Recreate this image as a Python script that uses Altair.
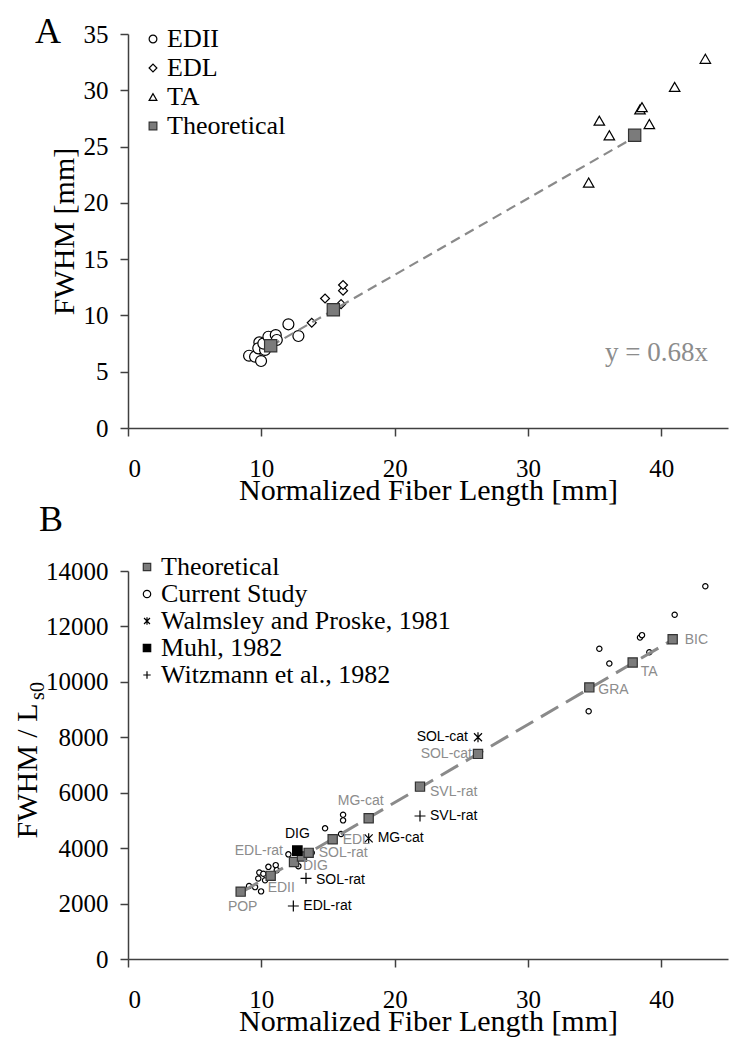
import altair as alt
import pandas as pd

SERIF = "Liberation Serif"
SANS = "Liberation Sans"
GRAY_TXT = "#8c8c8c"

# ---------------- Panel A data ----------------
EDII_X = [9.08, 9.53, 9.98, 9.85, 9.77, 10.28, 10.15, 10.53, 11.08, 11.16, 12.03, 12.78]
EDII_Y = [6.42, 6.33, 5.95, 7.61, 7.08, 6.93, 7.50, 8.11, 8.26, 7.82, 9.21, 8.17]
EDL_X = [13.78, 14.78, 15.98, 16.13, 16.13]
EDL_Y = [9.35, 11.5, 11.0, 12.2, 12.7]
TA_X = [43.3, 41.0, 38.4, 38.55, 35.35, 36.1, 39.1, 34.55]
TA_Y = [32.8, 30.3, 28.3, 28.5, 27.3, 26.0, 27.0, 21.8]
THEO_A_X = [10.7, 15.4, 38.0]
THEO_A_Y = [7.3, 10.5, 26.0]
LINE_A_X = [10.7, 38.0]
LINE_A_Y = [7.28, 25.84]

A_GROUPS = ["EDII", "EDL", "TA", "Theoretical"]

# ---------------- Panel B data ----------------
CUR_X = [9.08, 9.53, 9.98, 9.85, 9.77, 10.28, 10.15, 10.53, 11.08, 11.16, 12.03, 12.78,
         13.78, 14.78, 15.98, 16.13, 16.13,
         43.3, 41.0, 38.4, 38.55, 35.35, 36.1, 39.1, 34.55]
CUR_Y = [2632, 2595, 2440, 3120, 2903, 2841, 3075, 3325, 3387, 3206, 3776, 3350,
         3834, 4715, 4510, 5002, 5207,
         13448, 12423, 11603, 11685, 11193, 10660, 11070, 8938]
THEO_B_NAMES = ["POP", "EDII", "EDL-rat", "DIG", "SOL-rat", "EDL", "MG-cat", "SVL-rat",
                "SOL-cat", "GRA", "TA", "BIC"]
THEO_B_X = [8.45, 10.7, 12.45, 13.05, 13.55, 15.35, 18.05, 21.9, 26.25, 34.6, 37.85, 40.85]
THEO_B_Y = [2430, 3000, 3500, 3700, 3830, 4320, 5080, 6220, 7400, 9800, 10700, 11540]
WAL_NAMES = ["SOL-cat", "MG-cat"]
WAL_X = [26.25, 18.05]
WAL_Y = [8000, 4355]
MUHL_NAMES = ["DIG"]
MUHL_X = [12.7]
MUHL_Y = [3908]
WITZ_NAMES = ["SVL-rat", "SOL-rat", "EDL-rat"]
WITZ_X = [21.9, 13.35, 12.4]
WITZ_Y = [5160, 2912, 1912]
LINE_B_X = [8.45, 40.85]
LINE_B_Y = [2390, 11520]

B_GROUPS = ["Theoretical", "Current Study", "Walmsley and Proske, 1981", "Muhl, 1982",
            "Witzmann et al., 1982"]

ASTER = "M-0.8,-0.8L0.8,0.8M-0.8,0.8L0.8,-0.8M0,-1L0,1"
PLUS = "M-1,0L1,0M0,-1L0,1"

X_SCALE = alt.Scale(domain=[0, 45], nice=False, zero=False)
X_AXIS = alt.Axis(values=[0, 10, 20, 30, 40], title="Normalized Fiber Length [mm]",
                  labelPadding=20, titlePadding=-6)


def x_enc():
    return alt.X("x:Q", scale=X_SCALE, axis=X_AXIS)


def txt(text, x, y, size, color="black", font=SERIF, align="center", baseline="alphabetic", angle=0):
    return alt.Chart(pd.DataFrame({"t": [text]})).mark_text(
        font=font, fontSize=size, color=color, align=align, baseline=baseline, angle=angle
    ).encode(x=alt.value(x), y=alt.value(y), text="t:N")


# ---------------- Panel A ----------------
dfA = pd.DataFrame({
    "x": EDII_X + EDL_X + TA_X + THEO_A_X,
    "y": EDII_Y + EDL_Y + TA_Y + THEO_A_Y,
    "group": ["EDII"] * len(EDII_X) + ["EDL"] * len(EDL_X) + ["TA"] * len(TA_X)
             + ["Theoretical"] * len(THEO_A_X),
})
Y_SCALE_A = alt.Scale(domain=[0, 35], nice=False)
Y_AXIS_A = alt.Axis(values=[0, 5, 10, 15, 20, 25, 30, 35], title="FWHM [mm]",
                    labelPadding=12, titlePadding=4)
yA = alt.Y("y:Q", scale=Y_SCALE_A, axis=Y_AXIS_A)
legA = alt.Legend(title=None, orient="none", legendX=12, legendY=-8, labelFont=SERIF,
                  labelFontSize=26, labelColor="black", symbolSize=60, symbolStrokeWidth=1.2,
                  rowPadding=3, labelOffset=1, padding=0, labelLimit=400)
baseA = alt.Chart(dfA).encode(
    x=x_enc(), y=yA,
    shape=alt.Shape("group:N", scale=alt.Scale(domain=A_GROUPS,
                    range=["circle", "diamond", "triangle-up", "square"]), legend=legA),
    fill=alt.Fill("group:N", scale=alt.Scale(domain=A_GROUPS,
                  range=["white", "white", "white", "#7b7b7b"]), legend=legA),
    stroke=alt.Stroke("group:N", scale=alt.Scale(domain=A_GROUPS,
                      range=["black", "black", "black", "#333333"]), legend=legA),
)
layersA = []
for g, sz in zip(["EDII", "EDL", "TA"], [120, 80, 110]):
    layersA.append(baseA.transform_filter(alt.datum.group == g)
                   .mark_point(filled=True, opacity=1, size=sz, strokeWidth=1.2))
lineA = alt.Chart(pd.DataFrame({"x": LINE_A_X, "y": LINE_A_Y})).mark_line(
    color="#8a8a8a", strokeDash=[10, 6], strokeWidth=2.2).encode(
    x=alt.X("x:Q", scale=X_SCALE, axis=X_AXIS), y=alt.Y("y:Q", scale=Y_SCALE_A, axis=Y_AXIS_A))
theoA = baseA.transform_filter(alt.datum.group == "Theoretical").mark_point(
    filled=True, opacity=1, size=150, strokeWidth=1.2)
chartA = alt.layer(
    *layersA, lineA, theoA,
    txt("y = 0.68x", 580, 327, 27, color=GRAY_TXT, align="right"),
    txt("A", -80, 9, 36),
).properties(width=600, height=394)

# ---------------- Panel B ----------------
dfB = pd.DataFrame({
    "x": THEO_B_X + CUR_X + WAL_X + MUHL_X + WITZ_X,
    "y": THEO_B_Y + CUR_Y + WAL_Y + MUHL_Y + WITZ_Y,
    "group": ["Theoretical"] * len(THEO_B_X) + ["Current Study"] * len(CUR_X)
             + ["Walmsley and Proske, 1981"] * len(WAL_X) + ["Muhl, 1982"] * len(MUHL_X)
             + ["Witzmann et al., 1982"] * len(WITZ_X),
})
Y_SCALE_B = alt.Scale(domain=[0, 14000], nice=False)
Y_AXIS_B = alt.Axis(values=list(range(0, 14001, 2000)), format="d", title=None, labelPadding=12)
yB = alt.Y("y:Q", scale=Y_SCALE_B, axis=Y_AXIS_B)
legB = alt.Legend(title=None, orient="none", legendX=6, legendY=-17, labelFont=SERIF,
                  labelFontSize=26, labelColor="black", symbolSize=55, symbolStrokeWidth=1.2,
                  rowPadding=1, labelOffset=1, padding=0, labelLimit=500)
baseB = alt.Chart(dfB).encode(
    x=x_enc(), y=yB,
    shape=alt.Shape("group:N", scale=alt.Scale(domain=B_GROUPS,
                    range=["square", "circle", ASTER, "square", PLUS]), legend=legB),
    fill=alt.Fill("group:N", scale=alt.Scale(domain=B_GROUPS,
                  range=["#7b7b7b", "white", "transparent", "black", "transparent"]), legend=legB),
    stroke=alt.Stroke("group:N", scale=alt.Scale(domain=B_GROUPS,
                      range=["#333333", "black", "black", "black", "black"]), legend=legB),
)


def ptsB(g, sz):
    return baseB.transform_filter(alt.datum.group == g).mark_point(
        filled=True, opacity=1, size=sz, strokeWidth=1.2)


lineB = alt.Chart(pd.DataFrame({"x": LINE_B_X, "y": LINE_B_Y})).mark_line(
    color="#8a8a8a", strokeDash=[20, 9], strokeWidth=3).encode(
    x=alt.X("x:Q", scale=X_SCALE, axis=X_AXIS), y=alt.Y("y:Q", scale=Y_SCALE_B, axis=Y_AXIS_B))

# label styles: (names, xs, ys, label, dx, dy, align, color)
LABEL_STYLE = [
    (THEO_B_NAMES, THEO_B_X, THEO_B_Y, "POP", 2, 15, "center", GRAY_TXT),
    (THEO_B_NAMES, THEO_B_X, THEO_B_Y, "EDII", -3, 12, "left", GRAY_TXT),
    (THEO_B_NAMES, THEO_B_X, THEO_B_Y, "EDL-rat", -11, -11, "right", GRAY_TXT),
    (THEO_B_NAMES, THEO_B_X, THEO_B_Y, "DIG", 1, 10, "left", GRAY_TXT),
    (THEO_B_NAMES, THEO_B_X, THEO_B_Y, "SOL-rat", 10, 0, "left", GRAY_TXT),
    (THEO_B_NAMES, THEO_B_X, THEO_B_Y, "EDL", 10, 1, "left", GRAY_TXT),
    (THEO_B_NAMES, THEO_B_X, THEO_B_Y, "MG-cat", -8, -17, "center", GRAY_TXT),
    (THEO_B_NAMES, THEO_B_X, THEO_B_Y, "SVL-rat", 10, 5, "left", GRAY_TXT),
    (THEO_B_NAMES, THEO_B_X, THEO_B_Y, "SOL-cat", -6, 0, "right", GRAY_TXT),
    (THEO_B_NAMES, THEO_B_X, THEO_B_Y, "GRA", 9, 3, "left", GRAY_TXT),
    (THEO_B_NAMES, THEO_B_X, THEO_B_Y, "TA", 8, 10, "left", GRAY_TXT),
    (THEO_B_NAMES, THEO_B_X, THEO_B_Y, "BIC", 12, 1, "left", GRAY_TXT),
    (MUHL_NAMES, MUHL_X, MUHL_Y, "DIG", 0, -17, "center", "black"),
    (WAL_NAMES, WAL_X, WAL_Y, "MG-cat", 9, 0, "left", "black"),
    (WAL_NAMES, WAL_X, WAL_Y, "SOL-cat", -10, 0, "right", "black"),
    (WITZ_NAMES, WITZ_X, WITZ_Y, "SVL-rat", 10, 0, "left", "black"),
    (WITZ_NAMES, WITZ_X, WITZ_Y, "SOL-rat", 10, 2, "left", "black"),
    (WITZ_NAMES, WITZ_X, WITZ_Y, "EDL-rat", 10, 0, "left", "black"),
]
label_layers = []
for names, xs, ys, lab, dx, dy, al, col in LABEL_STYLE:
    i = names.index(lab)
    d = pd.DataFrame({"x": [xs[i]], "y": [ys[i]], "t": [lab]})
    label_layers.append(alt.Chart(d).mark_text(
        font=SANS, fontSize=14, color=col, align=al, baseline="middle", dx=dx, dy=dy
    ).encode(x=alt.X("x:Q", scale=X_SCALE, axis=X_AXIS),
             y=alt.Y("y:Q", scale=Y_SCALE_B, axis=Y_AXIS_B), text="t:N"))

chartB = alt.layer(
    ptsB("Current Study", 28), lineB, ptsB("Theoretical", 85), ptsB("Muhl, 1982", 90),
    ptsB("Walmsley and Proske, 1981", 100), ptsB("Witzmann et al., 1982", 120),
    *label_layers,
    txt("FWHM / L", -100, 200, 30, baseline="middle", angle=270),
    txt("s0", -90, 120, 20, baseline="middle", angle=270),
    txt("B", -77, -40, 36),
).properties(width=600, height=388)

chart = alt.vconcat(chartA, chartB, spacing=143, bounds="flush").resolve_scale(
    shape="independent", fill="independent", stroke="independent"
).properties(padding={"left": 5, "top": 6, "right": 5, "bottom": 5}).configure_view(
    stroke=None
).configure_axis(
    grid=False, labelFont=SERIF, labelFontSize=25, labelColor="black",
    titleFont=SERIF, titleFontSize=30, titleFontWeight="normal", titleColor="black",
    tickSize=8, domainColor="#404040", tickColor="#404040", domainWidth=1.5, tickWidth=1.5
)

chart.save("out.html", embed_options={"renderer": "svg", "actions": False})
